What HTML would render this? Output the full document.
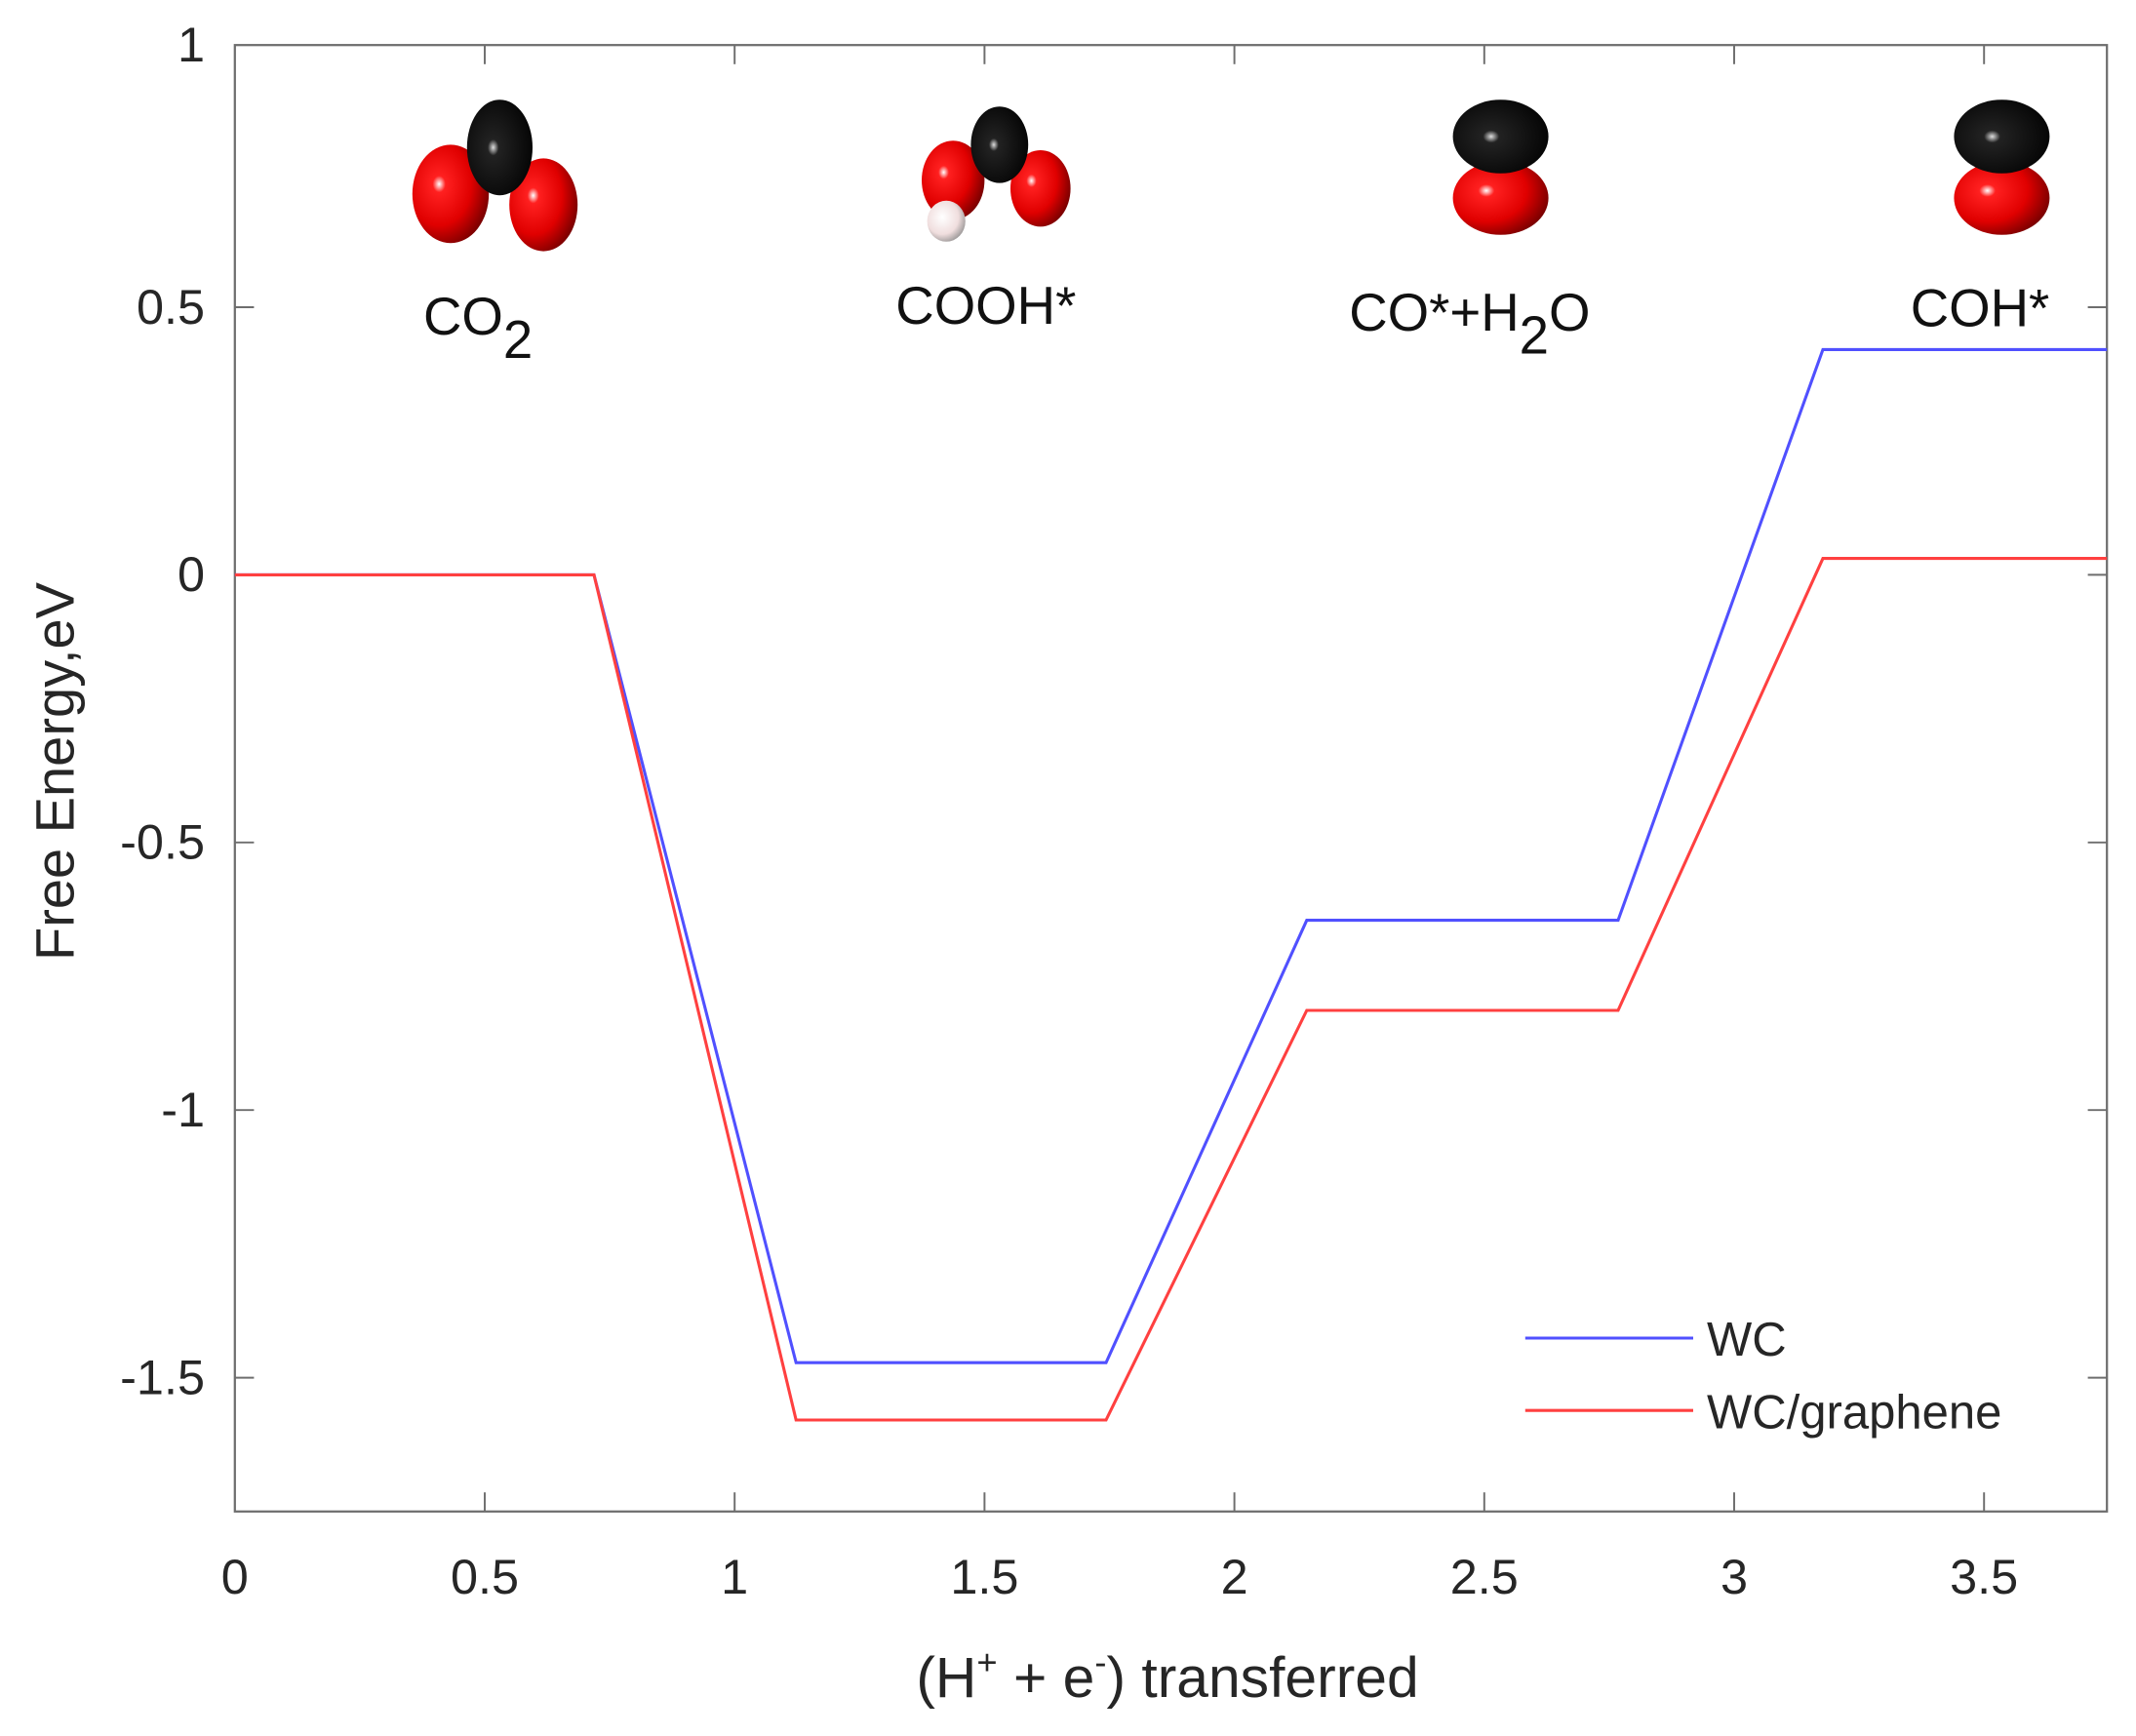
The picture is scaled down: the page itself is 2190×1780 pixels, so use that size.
<!DOCTYPE html>
<html><head><meta charset="utf-8"><style>html,body{margin:0;padding:0;background:#fff}svg{display:block}</style></head>
<body>
<svg width="2190" height="1780" viewBox="0 0 2190 1780" xmlns="http://www.w3.org/2000/svg">
<defs>
<radialGradient id="rd" cx="0.35" cy="0.4" r="0.7"><stop offset="0" stop-color="#fff"/><stop offset="0.12" stop-color="#ff2020"/><stop offset="0.6" stop-color="#e00000"/><stop offset="1" stop-color="#700000"/></radialGradient>
<radialGradient id="bk" cx="0.4" cy="0.5" r="0.7"><stop offset="0" stop-color="#ddd"/><stop offset="0.12" stop-color="#222"/><stop offset="1" stop-color="#000"/></radialGradient>
<radialGradient id="wh" cx="0.4" cy="0.4" r="0.7"><stop offset="0" stop-color="#fff"/><stop offset="0.6" stop-color="#f0dede"/><stop offset="1" stop-color="#888"/></radialGradient>
</defs>
<g transform="scale(1.4)">
<g font-family="Liberation Sans, sans-serif" fill="#262626">
<rect x="172" y="33" width="1371" height="1074" fill="none" stroke="#6e6e6e" stroke-width="1.6"/>
<g stroke="#6e6e6e" stroke-width="1.4">
<line x1="355" y1="1107" x2="355" y2="1093"/><line x1="538" y1="1107" x2="538" y2="1093"/><line x1="721" y1="1107" x2="721" y2="1093"/><line x1="904" y1="1107" x2="904" y2="1093"/><line x1="1087" y1="1107" x2="1087" y2="1093"/><line x1="1270" y1="1107" x2="1270" y2="1093"/><line x1="1453" y1="1107" x2="1453" y2="1093"/>
<line x1="355" y1="33" x2="355" y2="47"/><line x1="538" y1="33" x2="538" y2="47"/><line x1="721" y1="33" x2="721" y2="47"/><line x1="904" y1="33" x2="904" y2="47"/><line x1="1087" y1="33" x2="1087" y2="47"/><line x1="1270" y1="33" x2="1270" y2="47"/><line x1="1453" y1="33" x2="1453" y2="47"/>
<line x1="172" y1="225" x2="186" y2="225"/><line x1="172" y1="421" x2="186" y2="421"/><line x1="172" y1="617" x2="186" y2="617"/><line x1="172" y1="813" x2="186" y2="813"/><line x1="172" y1="1009" x2="186" y2="1009"/>
<line x1="1543" y1="225" x2="1529" y2="225"/><line x1="1543" y1="421" x2="1529" y2="421"/><line x1="1543" y1="617" x2="1529" y2="617"/><line x1="1543" y1="813" x2="1529" y2="813"/><line x1="1543" y1="1009" x2="1529" y2="1009"/>
</g>
<g font-size="36" text-anchor="middle">
<text x="172" y="1167">0</text><text x="355" y="1167">0.5</text><text x="538" y="1167">1</text><text x="721" y="1167">1.5</text><text x="904" y="1167">2</text><text x="1087" y="1167">2.5</text><text x="1270" y="1167">3</text><text x="1453" y="1167">3.5</text>
</g>
<g font-size="36" text-anchor="end">
<text x="150" y="45">1</text><text x="150" y="237">0.5</text><text x="150" y="433">0</text><text x="150" y="629">-0.5</text><text x="150" y="825">-1</text><text x="150" y="1021">-1.5</text>
</g>
<text x="855" y="1243" font-size="42" text-anchor="middle">(H<tspan dy="-17" font-size="26">+</tspan><tspan dy="17"> + e</tspan><tspan dy="-17" font-size="26">-</tspan><tspan dy="17">) transferred</tspan></text>
<text transform="translate(54,565) rotate(-90)" font-size="40" text-anchor="middle">Free Energy,eV</text>
<polyline fill="none" stroke="#5050ff" stroke-width="2.2" points="172,421 435,421 583,998 810,998 957,674 1185,674 1335,256 1543,256"/>
<polyline fill="none" stroke="#ff4040" stroke-width="2.2" points="172,421 435,421 583,1040 810,1040 957,740 1185,740 1335,409 1543,409"/>
<line x1="1117" y1="980" x2="1240" y2="980" stroke="#5050ff" stroke-width="2.2"/>
<line x1="1117" y1="1033" x2="1240" y2="1033" stroke="#ff4040" stroke-width="2.2"/>
<text x="1250" y="993" font-size="35">WC</text>
<text x="1250" y="1046" font-size="35">WC/graphene</text>
<g font-size="39" fill="#111">
<text x="310" y="245">CO<tspan dy="17">2</tspan></text>
<text x="722" y="237" text-anchor="middle">COOH*</text>
<text x="988" y="242">CO*+H<tspan dy="17">2</tspan><tspan dy="-17">O</tspan></text>
<text x="1450" y="239" text-anchor="middle">COH*</text>
</g>
<ellipse cx="330" cy="142" rx="28" ry="36" fill="url(#rd)"/>
<ellipse cx="398" cy="150" rx="25" ry="34" fill="url(#rd)"/>
<ellipse cx="366" cy="108" rx="24" ry="35" fill="url(#bk)"/>
<ellipse cx="698" cy="132" rx="23" ry="29" fill="url(#rd)"/>
<ellipse cx="762" cy="138" rx="22" ry="28" fill="url(#rd)"/>
<ellipse cx="693" cy="162" rx="14" ry="15" fill="url(#wh)"/>
<ellipse cx="732" cy="106" rx="21" ry="28" fill="url(#bk)"/>
<ellipse cx="1099" cy="145" rx="35" ry="27" fill="url(#rd)"/>
<ellipse cx="1099" cy="100" rx="35" ry="27" fill="url(#bk)"/>
<ellipse cx="1466" cy="145" rx="35" ry="27" fill="url(#rd)"/>
<ellipse cx="1466" cy="100" rx="35" ry="27" fill="url(#bk)"/>
</g>
</g>
</svg>
</body></html>
